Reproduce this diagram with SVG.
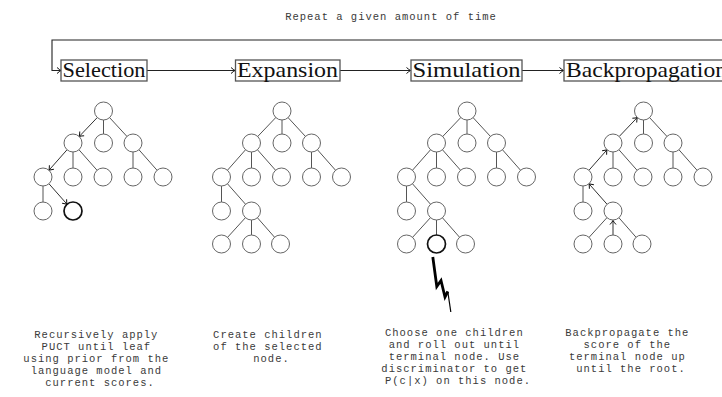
<svg xmlns="http://www.w3.org/2000/svg" xmlns:xlink="http://www.w3.org/1999/xlink" width="722" height="397" viewBox="0 0 722 397">
  <style>
    .stage rect { fill: #fff; stroke: #555; stroke-width: 1.3; }
    .stage text { font-family: "Liberation Serif", "DejaVu Serif", serif; font-size: 22px; fill: #111; }
    .flow { fill: none; stroke: #222; stroke-width: 1.1; marker-end: url(#tip); }
    .edge { fill: none; stroke: #555; stroke-width: 1; }
    .edge.arr { stroke: #333; marker-end: url(#tip); }
    .node { fill: #fff; stroke: #666; stroke-width: 1; }
    .node.hot { stroke: #111; stroke-width: 1.7; }
    .note { font-family: "Liberation Mono", "DejaVu Sans Mono", monospace; font-size: 10.5px; letter-spacing: 1px; fill: #3a3a3a; text-anchor: middle; }
  </style>
  <defs>
    <marker id="tip" viewBox="-5 -4 6 8" refX="0" refY="0" markerWidth="6" markerHeight="8" markerUnits="userSpaceOnUse" orient="auto">
      <path d="M-4,-3 Q-1.5,-0.8 0,0 Q-1.5,0.8 -4,3" fill="none" stroke="#111" stroke-width="1"/>
    </marker>
    <!-- plain tree edges shared by every stage (centre to centre, hidden under the nodes) -->
    <g id="baseEdges">
      <line class="edge" x1="103.5" y1="111" x2="103.5" y2="143"/>
      <line class="edge" x1="103.5" y1="111" x2="133" y2="143"/>
      <line class="edge" x1="73" y1="143" x2="73" y2="177"/>
      <line class="edge" x1="73" y1="143" x2="103" y2="177"/>
      <line class="edge" x1="133" y1="143" x2="133" y2="177"/>
      <line class="edge" x1="133" y1="143" x2="163" y2="177"/>
      <line class="edge" x1="43" y1="177" x2="43" y2="211"/>
    </g>
  </defs>

  <text class="note" x="391" y="20">Repeat a given amount of time</text>

  <!-- connectors -->
  <g id="connectors">
    <path class="flow" d="M730,40 H52 V70.5 H61"/>
    <path class="flow" d="M147,70.5 H235"/>
    <path class="flow" d="M340,70.5 H410.5"/>
    <path class="flow" d="M522,70.5 H563.5"/>

    <g id="selection-edges">
      <use xlink:href="#baseEdges"/>
      <path class="edge arr" d="M97.3,117.5 L79.2,136.5"/>
      <path class="edge arr" d="M67,149.8 L49,170.2"/>
      <path class="edge arr" d="M49,183.8 L67,204.2"/>
    </g>
    <g id="expansion-edges" transform="translate(178.5,0)">
      <use xlink:href="#baseEdges"/>
      <line class="edge" x1="103.5" y1="111" x2="73" y2="143"/>
      <line class="edge" x1="73" y1="143" x2="43" y2="177"/>
      <line class="edge" x1="43" y1="177" x2="73" y2="211"/>
      <line class="edge" x1="73" y1="211" x2="43" y2="244"/>
      <line class="edge" x1="73" y1="211" x2="73" y2="244"/>
      <line class="edge" x1="73" y1="211" x2="102" y2="244"/>
    </g>
    <g id="simulation-edges" transform="translate(363.5,0)">
      <use xlink:href="#baseEdges"/>
      <line class="edge" x1="103.5" y1="111" x2="73" y2="143"/>
      <line class="edge" x1="73" y1="143" x2="43" y2="177"/>
      <line class="edge" x1="43" y1="177" x2="73" y2="211"/>
      <line class="edge" x1="73" y1="211" x2="43" y2="244"/>
      <line class="edge" x1="73" y1="211" x2="73" y2="244"/>
      <line class="edge" x1="73" y1="211" x2="102" y2="244"/>
    </g>
    <g id="backprop-edges" transform="translate(540,0)">
      <use xlink:href="#baseEdges"/>
      <line class="edge" x1="73" y1="211" x2="43" y2="244"/>
      <line class="edge" x1="73" y1="211" x2="102" y2="244"/>
      <path class="edge arr" d="M73,235 L73,220.5"/>
      <path class="edge arr" d="M67,204.2 L49,183.8"/>
      <path class="edge arr" d="M49,170.2 L67,149.8"/>
      <path class="edge arr" d="M79.2,136.5 L97.3,117.5"/>
    </g>
  </g>

  <!-- stage labels -->
  <g id="selection" class="stage">
    <rect x="61" y="60" width="86" height="21"/>
    <text x="62.5" y="77" textLength="83" lengthAdjust="spacingAndGlyphs">Selection</text>
  </g>
  <g id="expansion" class="stage">
    <rect x="235.5" y="60" width="104.5" height="21"/>
    <text x="237" y="77" textLength="101" lengthAdjust="spacingAndGlyphs">Expansion</text>
  </g>
  <g id="simulation" class="stage">
    <rect x="411" y="60" width="111" height="21"/>
    <text x="412.5" y="77" textLength="108" lengthAdjust="spacingAndGlyphs">Simulation</text>
  </g>
  <g id="backpropagation" class="stage">
    <rect x="564" y="60" width="166" height="21"/>
    <text x="566" y="77" textLength="161" lengthAdjust="spacingAndGlyphs">Backpropagation</text>
  </g>

  <!-- tree 1: selection -->
  <g id="tree-selection">
    <g id="s-r"><circle class="node" cx="103.5" cy="111" r="9"/></g>
    <g id="s-a1"><circle class="node" cx="73" cy="143" r="9"/></g>
    <g id="s-a2"><circle class="node" cx="103.5" cy="143" r="9"/></g>
    <g id="s-a3"><circle class="node" cx="133" cy="143" r="9"/></g>
    <g id="s-b1"><circle class="node" cx="43" cy="177" r="9"/></g>
    <g id="s-b2"><circle class="node" cx="73" cy="177" r="9"/></g>
    <g id="s-b3"><circle class="node" cx="103" cy="177" r="9"/></g>
    <g id="s-b4"><circle class="node" cx="133" cy="177" r="9"/></g>
    <g id="s-b5"><circle class="node" cx="163" cy="177" r="9"/></g>
    <g id="s-c1"><circle class="node" cx="43" cy="211" r="9"/></g>
    <g id="s-c2"><circle class="node hot" cx="73" cy="211" r="9"/></g>
  </g>

  <!-- tree 2: expansion -->
  <g id="tree-expansion" transform="translate(178.5,0)">
    <g id="e-r"><circle class="node" cx="103.5" cy="111" r="9"/></g>
    <g id="e-a1"><circle class="node" cx="73" cy="143" r="9"/></g>
    <g id="e-a2"><circle class="node" cx="103.5" cy="143" r="9"/></g>
    <g id="e-a3"><circle class="node" cx="133" cy="143" r="9"/></g>
    <g id="e-b1"><circle class="node" cx="43" cy="177" r="9"/></g>
    <g id="e-b2"><circle class="node" cx="73" cy="177" r="9"/></g>
    <g id="e-b3"><circle class="node" cx="103" cy="177" r="9"/></g>
    <g id="e-b4"><circle class="node" cx="133" cy="177" r="9"/></g>
    <g id="e-b5"><circle class="node" cx="163" cy="177" r="9"/></g>
    <g id="e-c1"><circle class="node" cx="43" cy="211" r="9"/></g>
    <g id="e-c2"><circle class="node" cx="73" cy="211" r="9"/></g>
    <g id="e-d1"><circle class="node" cx="43" cy="244" r="9"/></g>
    <g id="e-d2"><circle class="node" cx="73" cy="244" r="9"/></g>
    <g id="e-d3"><circle class="node" cx="102" cy="244" r="9"/></g>
  </g>

  <!-- tree 3: simulation -->
  <g id="tree-simulation" transform="translate(363.5,0)">
    <g id="m-r"><circle class="node" cx="103.5" cy="111" r="9"/></g>
    <g id="m-a1"><circle class="node" cx="73" cy="143" r="9"/></g>
    <g id="m-a2"><circle class="node" cx="103.5" cy="143" r="9"/></g>
    <g id="m-a3"><circle class="node" cx="133" cy="143" r="9"/></g>
    <g id="m-b1"><circle class="node" cx="43" cy="177" r="9"/></g>
    <g id="m-b2"><circle class="node" cx="73" cy="177" r="9"/></g>
    <g id="m-b3"><circle class="node" cx="103" cy="177" r="9"/></g>
    <g id="m-b4"><circle class="node" cx="133" cy="177" r="9"/></g>
    <g id="m-b5"><circle class="node" cx="163" cy="177" r="9"/></g>
    <g id="m-c1"><circle class="node" cx="43" cy="211" r="9"/></g>
    <g id="m-c2"><circle class="node" cx="73" cy="211" r="9"/></g>
    <g id="m-d1"><circle class="node" cx="43" cy="244" r="9"/></g>
    <g id="m-d2"><circle class="node hot" cx="73" cy="244" r="9"/></g>
    <g id="m-d3"><circle class="node" cx="102" cy="244" r="9"/></g>
    <!-- rollout bolt -->
    <polyline points="69.3,257 73.3,286.5 77.5,280.5 81.5,297 84.3,291.5" fill="none" stroke="#000" stroke-width="2.8" stroke-linejoin="miter" stroke-miterlimit="10"/>
    <line x1="84.3" y1="291.5" x2="87.3" y2="312" stroke="#000" stroke-width="1.2"/>
  </g>

  <!-- tree 4: backpropagation -->
  <g id="tree-backprop" transform="translate(540,0)">
    <g id="b-r"><circle class="node" cx="103.5" cy="111" r="9"/></g>
    <g id="b-a1"><circle class="node" cx="73" cy="143" r="9"/></g>
    <g id="b-a2"><circle class="node" cx="103.5" cy="143" r="9"/></g>
    <g id="b-a3"><circle class="node" cx="133" cy="143" r="9"/></g>
    <g id="b-b1"><circle class="node" cx="43" cy="177" r="9"/></g>
    <g id="b-b2"><circle class="node" cx="73" cy="177" r="9"/></g>
    <g id="b-b3"><circle class="node" cx="103" cy="177" r="9"/></g>
    <g id="b-b4"><circle class="node" cx="133" cy="177" r="9"/></g>
    <g id="b-b5"><circle class="node" cx="163" cy="177" r="9"/></g>
    <g id="b-c1"><circle class="node" cx="43" cy="211" r="9"/></g>
    <g id="b-c2"><circle class="node" cx="73" cy="211" r="9"/></g>
    <g id="b-d1"><circle class="node" cx="43" cy="244" r="9"/></g>
    <g id="b-d2"><circle class="node" cx="73" cy="244" r="9"/></g>
    <g id="b-d3"><circle class="node" cx="102" cy="244" r="9"/></g>
  </g>

  <!-- captions -->
  <text class="note" y="338">
    <tspan x="100">Recursively apply</tspan>
    <tspan x="100" dy="12">PUCT until leaf</tspan>
    <tspan x="100" dy="12">using prior from the</tspan>
    <tspan x="100" dy="12">language model and</tspan>
    <tspan x="100" dy="12">current scores.</tspan>
  </text>
  <text class="note" y="338">
    <tspan x="271.5">Create children</tspan>
    <tspan x="271.5" dy="12">of the selected</tspan>
    <tspan x="271.5" dy="12">node.</tspan>
  </text>
  <text class="note" y="336">
    <tspan x="458">Choose one children</tspan>
    <tspan x="458" dy="12">and roll out until</tspan>
    <tspan x="458" dy="12">terminal node. Use</tspan>
    <tspan x="458" dy="12">discriminator to get</tspan>
    <tspan x="458" dy="12">P(c|x) on this node.</tspan>
  </text>
  <text class="note" y="336">
    <tspan x="631">Backpropagate the</tspan>
    <tspan x="631" dy="12">score of the</tspan>
    <tspan x="631" dy="12">terminal node up</tspan>
    <tspan x="631" dy="12">until the root.</tspan>
  </text>
</svg>
